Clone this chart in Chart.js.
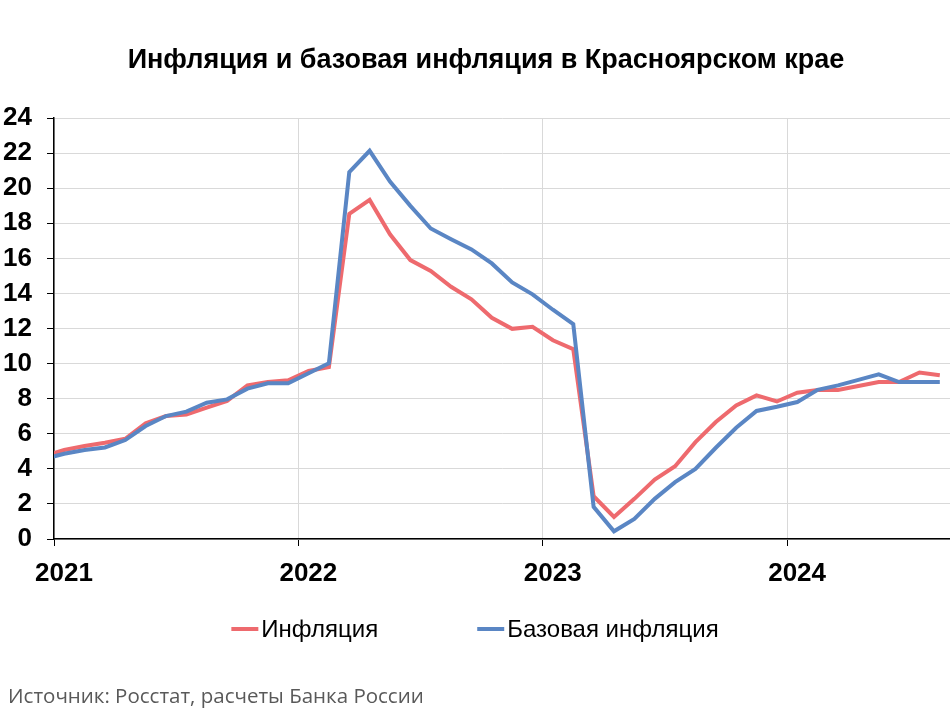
<!DOCTYPE html>
<html>
<head>
<meta charset="utf-8">
<script src="https://cdn.jsdelivr.net/npm/chart.js@4"></script>
<style>
  body { margin: 0; background: #fff; }
</style>
</head>
<body>
<canvas id="grafico" width="950" height="712"></canvas>
<script>
const months = [
  "2020-12",
  "2021-01", "2021-02", "2021-03", "2021-04", "2021-05", "2021-06",
  "2021-07", "2021-08", "2021-09", "2021-10", "2021-11", "2021-12",
  "2022-01", "2022-02", "2022-03", "2022-04", "2022-05", "2022-06",
  "2022-07", "2022-08", "2022-09", "2022-10", "2022-11", "2022-12",
  "2023-01", "2023-02", "2023-03", "2023-04", "2023-05", "2023-06",
  "2023-07", "2023-08", "2023-09", "2023-10", "2023-11", "2023-12",
  "2024-01", "2024-02", "2024-03", "2024-04", "2024-05", "2024-06",
  "2024-07", "2024-08"
];
const inflation = [
  4.73,
  5.07, 5.30, 5.49, 5.71, 6.59, 7.01, 7.10, 7.49, 7.87, 8.76, 8.95, 9.05,
  9.58, 9.80, 18.53, 19.33, 17.37, 15.90, 15.28, 14.38, 13.66, 12.61, 11.98, 12.10,
  11.33, 10.82, 2.44, 1.26, 2.29, 3.39, 4.15, 5.52, 6.67, 7.62, 8.19, 7.84,
  8.34, 8.50, 8.50, 8.72, 8.95, 8.95, 9.49, 9.33
];
const coreInflation = [
  4.56,
  4.86, 5.07, 5.22, 5.64, 6.44, 7.01, 7.26, 7.77, 7.96, 8.57, 8.88, 8.88,
  9.45, 10.02, 20.91, 22.13, 20.38, 18.99, 17.70, 17.09, 16.51, 15.71, 14.63, 13.95,
  13.07, 12.25, 1.83, 0.44, 1.14, 2.29, 3.24, 4.00, 5.20, 6.34, 7.30, 7.54,
  7.81, 8.50, 8.76, 9.07, 9.39, 8.95, 8.95, 8.95
];
const yTicks = [0, 24, 2];   // min, max, step
const firstYear = 2021;

const RED = '#ee6a6e';
const BLUE = '#5a86c4';
const FONT = "'Liberation Sans', Arial, sans-serif";
const TITLE = 'Инфляция и базовая инфляция в Красноярском крае';
const SOURCE = 'Источник: Росстат, расчеты Банка России';

// meses contados a partir de jan/2021, cada ponto no meio do mes
function toPoints(values) {
  return values.map((v, i) => ({ x: i - 0.5, y: v }));
}

const legendItems = [
  { text: 'Инфляция', color: RED },
  { text: 'Базовая инфляция', color: BLUE }
];

const extras = {
  id: 'extras',
  afterDraw(chart) {
    const c = chart.ctx;
    c.save();
    // titulo
    c.font = 'bold 27px ' + FONT;
    c.fillStyle = '#000';
    c.textAlign = 'center';
    c.textBaseline = 'alphabetic';
    c.fillText(TITLE, 486, 68);

    // legenda
    c.textAlign = 'left';
    c.font = '24px ' + FONT;
    c.textBaseline = 'middle';
    const lineLen = 27, gapText = 3, gapItem = 99;
    const widths = legendItems.map(it => lineLen + gapText + c.measureText(it.text).width);
    const total = widths.reduce((a, b) => a + b, 0) + gapItem * (legendItems.length - 1);
    let x = 475 - total / 2;
    const y = 629;
    legendItems.forEach((it, i) => {
      c.strokeStyle = it.color;
      c.lineWidth = 4;
      c.beginPath();
      c.moveTo(x, y);
      c.lineTo(x + lineLen, y);
      c.stroke();
      c.fillStyle = '#000';
      c.fillText(it.text, x + lineLen + gapText, y + 1);
      x += widths[i] + gapItem;
    });

    // fonte
    c.font = "20.5px 'Open Sans', sans-serif";
    c.fillStyle = '#595959';
    c.textBaseline = 'alphabetic';
    c.fillText(SOURCE, 8, 703);
    c.restore();
  }
};

const ctx = document.getElementById('grafico').getContext('2d');
const chart = new Chart(ctx, {
  type: 'line',
  data: {
    labels: months,
    datasets: [
      {
        label: 'Базовая инфляция',
        data: toPoints(coreInflation),
        borderColor: BLUE,
        borderWidth: 4,
        pointRadius: 0,
        tension: 0,
        clip: 0
      },
      {
        label: 'Инфляция',
        data: toPoints(inflation),
        borderColor: RED,
        borderWidth: 4,
        pointRadius: 0,
        tension: 0,
        clip: 0
      }
    ]
  },
  options: {
    responsive: false,
    animation: false,
    layout: { padding: { left: 0, right: 0, top: 118, bottom: 0 } },
    plugins: {
      legend: { display: false },
      tooltip: { enabled: false },
      title: { display: false }
    },
    scales: {
      x: {
        type: 'linear',
        min: 0,
        max: 44,
        afterFit(scale) { scale.height = 173; },
        grid: { color: '#d9d9d9', tickColor: '#000', tickLength: 7, lineWidth: 1 },
        border: { color: '#000', width: 1.5 },
        ticks: {
          stepSize: 12,
          includeBounds: false,
          autoSkip: false,
          maxRotation: 0,
          labelOffset: 10,
          padding: 12,
          color: '#000',
          font: { family: FONT, size: 26, weight: 'bold' },
          callback: v => String(firstYear + v / 12)
        }
      },
      y: {
        min: yTicks[0],
        max: yTicks[1],
        afterFit(scale) { scale.width = 54; },
        grid: { color: '#d9d9d9', tickColor: '#000', tickLength: 7, lineWidth: 1 },
        border: { color: '#000', width: 1.5 },
        ticks: {
          stepSize: yTicks[2],
          padding: 15,
          color: '#000',
          font: { family: FONT, size: 26, weight: 'bold' }
        }
      }
    }
  },
  plugins: [extras]
});
</script>
</body>
</html>
